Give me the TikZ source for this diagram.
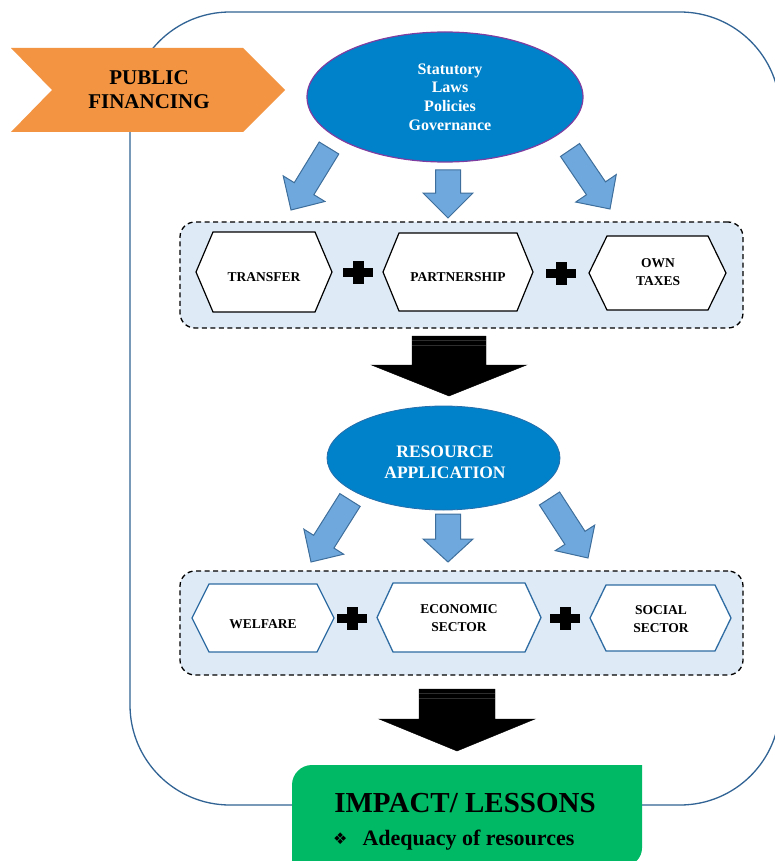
\documentclass[tikz,border=0pt]{standalone}
\usepackage{fontspec}
\setmainfont{Liberation Serif}
\newfontfamily\symfont{DejaVu Sans}
\usetikzlibrary{calc,shapes.geometric}

\definecolor{frameblue}{RGB}{49,99,148}
\definecolor{orangefill}{RGB}{242,148,65}
\definecolor{ovalblue}{RGB}{0,130,202}
\definecolor{ovalpurple}{RGB}{126,61,160}
\definecolor{ovaledge}{RGB}{40,110,170}
\definecolor{arrowfill}{RGB}{111,168,220}
\definecolor{arrowedge}{RGB}{62,110,155}
\definecolor{panelfill}{RGB}{222,234,246}
\definecolor{hexedge}{RGB}{46,108,162}
\definecolor{impactgreen}{RGB}{0,185,100}

% block arrow: style, tail, tip, shaft half width, head half width, head length
\newcommand\blkarrow[6]{%
  \path ($(#3)!#6!(#2)$) coordinate (hb);
  \draw[#1] ($(#2)!#4!90:(#3)$) -- ($(hb)!#4!90:(#3)$) -- ($(hb)!#5!90:(#3)$)
    -- (#3) -- ($(hb)!#5!-90:(#3)$) -- ($(hb)!#4!-90:(#3)$) -- ($(#2)!#4!-90:(#3)$) -- cycle;}

% hexagon with pointed sides: name, centre, width, height, indent, style
\newcommand\hexshape[6]{%
  \node[minimum width=#3, minimum height=#4, inner sep=0pt, outer sep=0pt] (#1) at #2 {};
  \draw[#6] (#1.west) -- ([xshift=#5]#1.north west) -- ([xshift=-#5]#1.north east)
    -- (#1.east) -- ([xshift=-#5]#1.south east) -- ([xshift=#5]#1.south west) -- cycle;}

% solid plus sign: name, x, y
\newcommand\plusmark[3]{%
  \coordinate (#1) at (#2,#3);
  \fill ([shift={(-15pt,-4.5pt)}]#1) rectangle ([shift={(15pt,4.5pt)}]#1);
  \fill ([shift={(-5.5pt,-11.5pt)}]#1) rectangle ([shift={(5.5pt,11.5pt)}]#1);}

\begin{document}
\begin{tikzpicture}[x=1pt,y=-1pt,
  frame/.style={draw=frameblue, line width=1.3pt, rounded corners=100pt},
  chev/.style={fill=orangefill},
  oval/.style={ellipse, fill=ovalblue, inner sep=0pt},
  panel/.style={rectangle, draw=black, fill=panelfill, dash pattern=on 5pt off 3.5pt,
    line width=1.3pt, rounded corners=15pt, inner sep=0pt},
  bluearrow/.style={fill=arrowfill, draw=arrowedge, line width=1pt},
  blackarrow/.style={fill=black},
  shaftline/.style={black!82, line width=0.4pt},
  hexblack/.style={fill=white, draw=black, line width=1.2pt, line join=miter},
  hexblue/.style={fill=white, draw=hexedge, line width=1.3pt, line join=miter},
  hextext/.style={font=\bfseries\fontsize{13.5}{18}\selectfont, align=center, inner sep=0pt},
  whitetext/.style={text=white, align=center, inner sep=0pt}]

\useasboundingbox (0,0) rectangle (775,861);
\clip (0,0) rectangle (775,861);

% outer rounded frame
\draw[frame] (130,12) rectangle (780,805);

% public financing chevron
\fill[chev] (11,48) -- (243,48) -- (285,90) -- (243,132) -- (11,132) -- (52,90) -- cycle;
\node[align=center, inner sep=0pt, font=\bfseries\fontsize{21}{24}\selectfont] (pf) at (149,90) {PUBLIC\\FINANCING};

% legal framework oval
\node[oval, draw=ovalpurple, line width=1.2pt, minimum width=276pt, minimum height=130pt] (law) at (445,97) {};
\node[whitetext, font=\bfseries\fontsize{16}{18.7}\selectfont] (lawt) at (450,97) {Statutory\\Laws\\Policies\\Governance};

% arrows from the oval
\coordinate (a1s) at (329,148); \coordinate (a1e) at (291,210);
\coordinate (a2s) at (448,170); \coordinate (a2e) at (448,218);
\coordinate (a3s) at (570,150); \coordinate (a3e) at (610,209);
\blkarrow{bluearrow}{a1s}{a1e}{11.5pt}{24.5pt}{25pt}
\blkarrow{bluearrow}{a2s}{a2e}{12.5pt}{25pt}{25pt}
\blkarrow{bluearrow}{a3s}{a3e}{11.5pt}{24.5pt}{25pt}

% revenue sources panel
\node[panel, minimum width=563pt, minimum height=106pt] (src) at (461.5,275) {};
\hexshape{tr}{(264,272)}{136pt}{80pt}{17pt}{hexblack}
\node[hextext] (trt) at ([yshift=-5pt]tr.center) {TRANSFER};
\hexshape{pa}{(458,272)}{150pt}{78pt}{16pt}{hexblack}
\node[hextext] (pat) at ([yshift=-5pt]pa.center) {PARTNERSHIP};
\hexshape{ot}{(657.5,273)}{137pt}{74pt}{18pt}{hexblack}
\node[hextext] (ott) at (658,272) {OWN\\TAXES};
\plusmark{pl1}{358}{272}
\plusmark{pl2}{561}{273}

% big arrow to resource application
\coordinate (b1s) at (449,336); \coordinate (b1e) at (449,396);
\blkarrow{blackarrow}{b1s}{b1e}{37pt}{77.5pt}{31pt}
\draw[shaftline] ([xshift=-37pt,yshift=-4pt]b1s) -- ([xshift=37pt,yshift=-4pt]b1s);
\draw[shaftline] ([xshift=-37pt,yshift=-9pt]b1s) -- ([xshift=37pt,yshift=-9pt]b1s);

% resource application oval
\node[oval, draw=ovaledge, line width=0.8pt, minimum width=233pt, minimum height=104pt] (res) at (443.5,458) {};
\node[whitetext, font=\bfseries\fontsize{17.5}{21}\selectfont] (rest) at (445,462) {RESOURCE\\APPLICATION};

% arrows from resource application
\coordinate (c1s) at (350,500); \coordinate (c1e) at (311,562);
\coordinate (c2s) at (448,514); \coordinate (c2e) at (448,562);
\coordinate (c3s) at (549.5,498.5); \coordinate (c3e) at (588,558);
\blkarrow{bluearrow}{c1s}{c1e}{12pt}{23.5pt}{24pt}
\blkarrow{bluearrow}{c2s}{c2e}{12.5pt}{25pt}{23pt}
\blkarrow{bluearrow}{c3s}{c3e}{12pt}{23.5pt}{24pt}

% sectors panel
\node[panel, minimum width=563pt, minimum height=104pt] (sec) at (461.5,623) {};
\hexshape{we}{(263,618)}{142pt}{68pt}{17pt}{hexblue}
\node[hextext] (wet) at ([yshift=-6pt]we.center) {WELFARE};
\hexshape{ec}{(459,617.5)}{164pt}{69pt}{16pt}{hexblue}
\node[hextext] (ect) at (459,618.5) {ECONOMIC\\SECTOR};
\hexshape{so}{(660.5,618)}{141pt}{66pt}{16pt}{hexblue}
\node[hextext] (sot) at (661,619.5) {SOCIAL\\SECTOR};
\plusmark{pl3}{352}{618}
\plusmark{pl4}{565}{618}

% big arrow to impact
\coordinate (b2s) at (457,689); \coordinate (b2e) at (457,751);
\blkarrow{blackarrow}{b2s}{b2e}{38pt}{78pt}{32pt}
\draw[shaftline] ([xshift=-38pt,yshift=-4pt]b2s) -- ([xshift=38pt,yshift=-4pt]b2s);
\draw[shaftline] ([xshift=-38pt,yshift=-9pt]b2s) -- ([xshift=38pt,yshift=-9pt]b2s);

% impact box
\fill[impactgreen] (292,870) -- (292,785) arc[start angle=180, end angle=270, radius=20]
  -- (642,765) -- (642,848) arc[start angle=0, end angle=90, radius=18] -- (292,866) -- cycle;
\node[anchor=base, inner sep=0pt, font=\bfseries\fontsize{29}{34}\selectfont] (imp) at (465,812) {IMPACT/ LESSONS};
\node[anchor=base west, inner sep=0pt, font=\bfseries\fontsize{22}{26}\selectfont] (adq) at (333,845)
  {\raisebox{1pt}{\symfont\fontsize{16}{18}\selectfont ❖}\hspace{15pt}Adequacy of resources};

\end{tikzpicture}
\end{document}
